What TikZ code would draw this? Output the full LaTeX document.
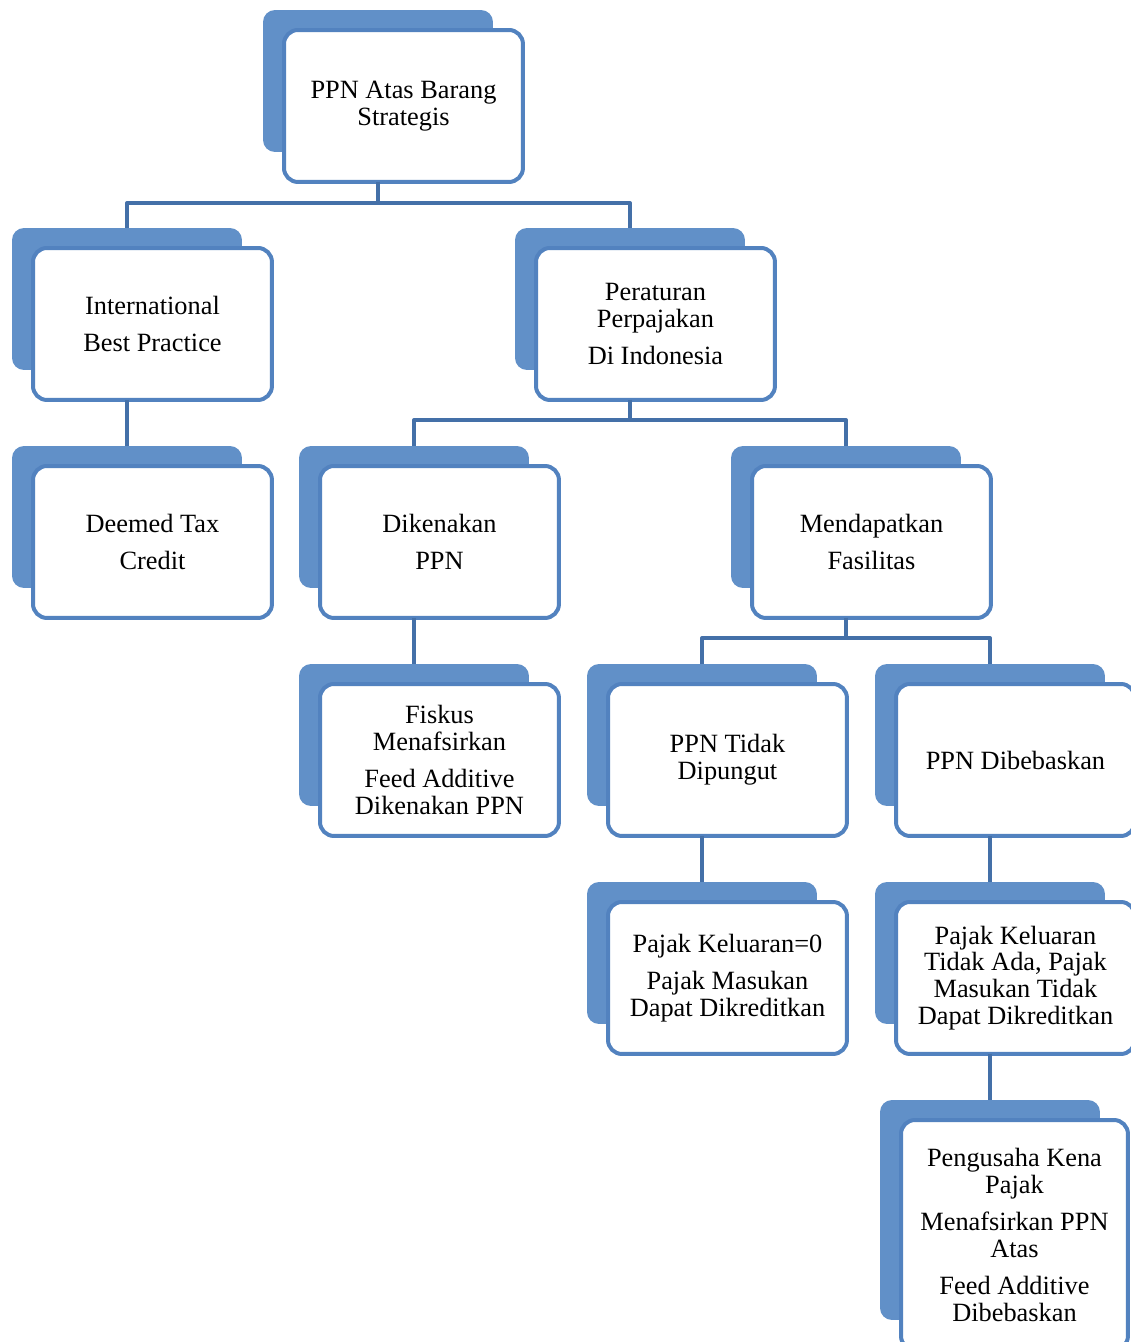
\documentclass[tikz,border=0pt]{standalone}
\usepackage{fontspec}
\setmainfont{Liberation Serif}
\definecolor{tabblue}{HTML}{6190C8}
\definecolor{rimblue}{HTML}{5282BF}
\definecolor{linkblue}{HTML}{4470A8}
\tikzset{
	back/.style={fill=tabblue, rounded corners=0.24cm, inner sep=0pt, outer sep=0pt,
		minimum width=4.6cm, minimum height=2.84cm, anchor=north west},
	front/.style={draw=rimblue, fill=white, line width=0.08cm, rounded corners=0.28cm,
		inner sep=0pt, outer sep=0pt, minimum width=4.78cm, minimum height=3.04cm,
		anchor=north west, align=center, font=\fontsize{15}{15.3}\selectfont},
	link/.style={draw=linkblue, line width=0.08cm}
}
\begin{document}
\begin{tikzpicture}[x=0.02cm, y=-0.02cm, line join=round]
		\def\p{6pt} % jarak paragraf
		\useasboundingbox (0,0) rectangle (1131,1342);
		\foreach \nm/\x/\y/\teks in {
			top/263/10/{PPN Atas Barang\\Strategis},
			ibp/12/228/{International\\[\p]Best Practice},
			per/515/228/{Peraturan\\Perpajakan\\[\p]Di Indonesia},
			dtc/12/446/{Deemed Tax\\[\p]Credit},
			dik/299/446/{Dikenakan\\[\p]PPN},
			fas/731/446/{Mendapatkan\\[\p]Fasilitas},
			fis/299/664/{Fiskus\\Menafsirkan\\[\p]Feed Additive\\Dikenakan PPN},
			tdp/587/664/{PPN Tidak\\Dipungut},
			bbs/875/664/{PPN Dibebaskan},
			pk0/587/882/{Pajak Keluaran=0\\[\p]Pajak Masukan\\Dapat Dikreditkan},
			pkt/875/882/{Pajak Keluaran\\Tidak Ada, Pajak\\Masukan Tidak\\Dapat Dikreditkan}}
		{
			\node[back] (b\nm) at (\x,\y) {};
			\node[front] (\nm) at (\x+21,\y+20) {\teks};
		}
		% kotak terakhir lebih tinggi
		\node[back, minimum width=4.4cm, minimum height=4.4cm] (bpkp) at (880,1100) {};
		\node[front, minimum width=4.54cm, minimum height=4.6cm] (pkp) at (901,1120)
			{Pengusaha Kena\\Pajak\\[\p]Menafsirkan PPN\\Atas\\[\p]Feed Additive\\Dibebaskan};
		\coordinate (j1) at (0,203);
		\coordinate (j2) at (0,420);
		\coordinate (j3) at (0,638);
		\draw[link] (btop.center |- top.south) -- (btop.center |- j1) -| (bibp.north);
		\draw[link] (btop.center |- j1) -| (bper.north);
		\draw[link] (bibp.center |- ibp.south) -- (bdtc.north);
		\draw[link] (bper.center |- per.south) -- (bper.center |- j2) -| (bdik.north);
		\draw[link] (bper.center |- j2) -| (bfas.north);
		\draw[link] (bdik.center |- dik.south) -- (bfis.north);
		\draw[link] (bfas.center |- fas.south) -- (bfas.center |- j3) -| (btdp.north);
		\draw[link] (bfas.center |- j3) -| (bbbs.north);
		\draw[link] (btdp.center |- tdp.south) -- (bpk0.north);
		\draw[link] (bbbs.center |- bbs.south) -- (bpkt.north);
		\draw[link] (bpkt.center |- pkt.south) -- (bpkt.center |- bpkp.north);
\end{tikzpicture}
\end{document}
